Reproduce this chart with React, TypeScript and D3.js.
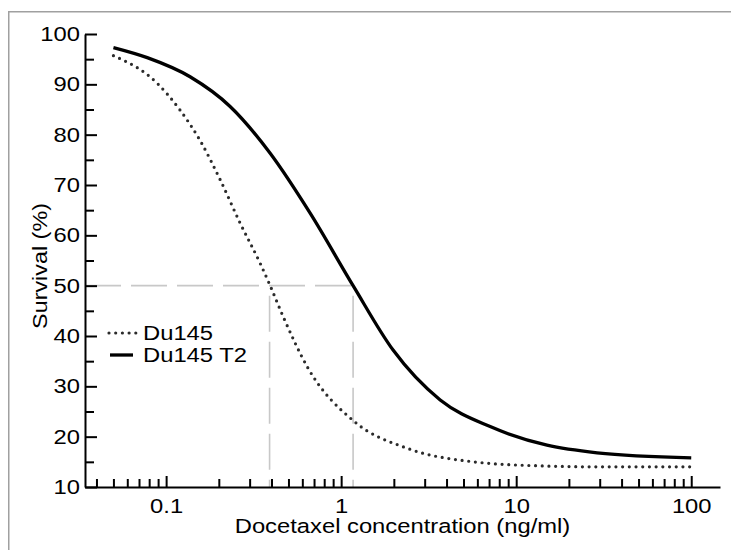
import React, { useRef, useEffect } from 'react';
import * as d3 from 'd3';

// values
const du145Conc = [0.05, 0.089, 0.12, 0.156, 0.204, 0.265, 0.344, 0.393, 0.467, 0.64, 1.19, 2.38, 5.7, 13.7, 30, 100];
const du145Surv = [95.7, 90.2, 84.9, 78.9, 71.0, 62.4, 54.5, 50.0, 43.8, 33.9, 23.0, 17.7, 15.0, 14.2, 14.0, 14.0];

const t2Conc = [0.05, 0.078, 0.137, 0.232, 0.393, 0.665, 1.17, 1.98, 3.68, 7.1, 15, 29, 100];
const t2Surv = [97.3, 95.3, 91.5, 85.6, 76.3, 64.4, 50.0, 37.2, 27.3, 22.0, 18.3, 16.8, 15.8];

const seriesNames = ['Du145', 'Du145 T2'];
const ec50s = [0.39, 1.17];

const yMajorTicks = [10, 20, 30, 40, 50, 60, 70, 80, 90, 100];
const yMinorTicks = [15, 25, 35, 45, 55, 65, 75, 85, 95];
const xMajorTicks = [0.1, 1, 10, 100];
const xTickLabels = ['0.1', '1', '10', '100'];
const xMinorTicks = [
    0.04, 0.05, 0.06, 0.07, 0.08, 0.09,
    0.2, 0.3, 0.4, 0.5, 0.6, 0.7, 0.8, 0.9,
    2, 3, 4, 5, 6, 7, 8, 9,
    20, 30, 40, 50, 60, 70, 80, 90
];
const xDomain = [0.0344, 146];
const yDomain = [10, 100];

const font = "'Liberation Sans', Arial, Helvetica, sans-serif";
const sx = 1.16; // text in the reference is a bit wide

function App() {
    const width = 731;
    const height = 550;
    const svgRef = useRef<SVGSVGElement>(null);

    const margin = { top: 34, right: 11, bottom: 63, left: 85 };

    useEffect(() => {
        const svg = d3.select(svgRef.current);
        svg.selectAll('*').remove();

        const xScale = d3.scaleLog().domain(xDomain).range([margin.left, width - margin.right]);
        const yScale = d3.scaleLinear().domain(yDomain).range([height - margin.bottom, margin.top]);

        // frame
        svg.append('rect')
            .attr('x', 8.75).attr('y', 11.75)
            .attr('width', 800).attr('height', 600)
            .attr('fill', 'none')
            .attr('stroke', '#a0a0a0')
            .attr('stroke-width', 1.5);

        // EC50 guide lines
        const y50 = yScale(50);
        const guides = svg.append('g')
            .attr('stroke', '#c8c8c8')
            .attr('stroke-width', 1.6)
            .attr('stroke-dasharray', '36 10')
            .attr('fill', 'none');
        guides.append('line')
            .attr('x1', margin.left).attr('x2', xScale(d3.max(ec50s)))
            .attr('y1', y50).attr('y2', y50);
        ec50s.forEach(c => {
            guides.append('line')
                .attr('x1', xScale(c)).attr('x2', xScale(c))
                .attr('y1', y50 + 10).attr('y2', yScale(10));
        });

        // y axis
        const yAxis = svg.append('g')
            .attr('transform', `translate(${margin.left},0)`)
            .call(d3.axisLeft(yScale).tickValues(yMajorTicks).tickSize(-12).tickSizeOuter(0).tickPadding(5 / sx));
        yAxis.append('g')
            .call(d3.axisLeft(yScale).tickValues(yMinorTicks).tickSize(-9).tickSizeOuter(0).tickFormat(() => ''))
            .select('.domain').remove();

        // x axis
        const xAxis = svg.append('g')
            .attr('transform', `translate(0,${height - margin.bottom})`)
            .call(d3.axisBottom(xScale).tickValues(xMajorTicks).tickSize(-11).tickSizeOuter(0).tickPadding(11)
                .tickFormat((d, i) => xTickLabels[i]));
        xAxis.append('g')
            .call(d3.axisBottom(xScale).tickValues(xMinorTicks).tickSize(-8).tickSizeOuter(0).tickFormat(() => ''))
            .select('.domain').remove();

        [yAxis, xAxis].forEach(a => {
            a.selectAll('path, line').attr('stroke', '#000').attr('stroke-width', 2);
            a.selectAll('text')
                .attr('font-family', font)
                .attr('font-size', 20.5)
                .attr('fill', '#000')
                .attr('transform', `scale(${sx},1)`);
        });

        // curves
        const line = d3.line<[number, number]>()
            .x(d => xScale(d[0]))
            .y(d => yScale(d[1]))
            .curve(d3.curveMonotoneX);

        svg.append('path')
            .datum(d3.zip(du145Conc, du145Surv) as [number, number][])
            .attr('d', line)
            .attr('fill', 'none')
            .attr('stroke', '#2b2b2b')
            .attr('stroke-width', 3.2)
            .attr('stroke-linecap', 'round')
            .attr('stroke-dasharray', '0 6.7');

        svg.append('path')
            .datum(d3.zip(t2Conc, t2Surv) as [number, number][])
            .attr('d', line)
            .attr('fill', 'none')
            .attr('stroke', '#000')
            .attr('stroke-width', 3.3);

        // legend
        const legend = svg.append('g').attr('transform', 'translate(108,333)');
        seriesNames.forEach((name, i) => {
            const row = legend.append('g').attr('transform', `translate(0,${i * 22})`);
            row.append('line')
                .attr('x1', i === 0 ? 1 : 2).attr('x2', i === 0 ? 28 : 25)
                .attr('stroke', i === 0 ? '#2b2b2b' : '#000')
                .attr('stroke-width', i === 0 ? 3.2 : 3.3)
                .attr('stroke-linecap', i === 0 ? 'round' : 'butt')
                .attr('stroke-dasharray', i === 0 ? '0 6.7' : null);
            row.append('text')
                .attr('transform', `translate(35,0) scale(${sx},1)`)
                .attr('dy', '0.35em')
                .attr('font-family', font)
                .attr('font-size', 20.5)
                .text(name);
        });

        // axis titles
        svg.append('text')
            .attr('transform', `translate(${(margin.left + width - margin.right) / 2},533) scale(${sx},1)`)
            .attr('text-anchor', 'middle')
            .attr('font-family', font)
            .attr('font-size', 20.5)
            .text('Docetaxel concentration (ng/ml)');

        svg.append('text')
            .attr('transform', `translate(47,266) rotate(-90) scale(1.14,1)`)
            .attr('text-anchor', 'middle')
            .attr('font-family', font)
            .attr('font-size', 20.5)
            .text('Survival (%)');
    }, []);

    return (
        <svg ref={svgRef} width={width} height={height}
            style={{ position: 'absolute', left: 0, top: 0, background: '#fff' }} />
    );
}

export default App;
